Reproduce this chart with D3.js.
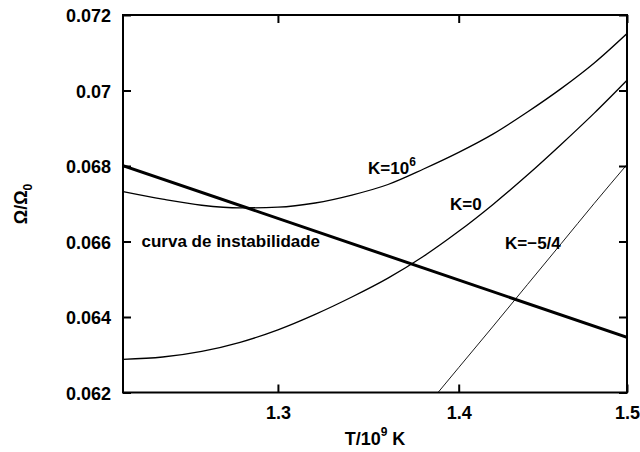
<!DOCTYPE html>
<html>
<head>
<meta charset="utf-8">
<script src="https://cdn.jsdelivr.net/npm/d3@7/dist/d3.min.js"></script>
<style>
  html, body { margin: 0; padding: 0; background: #fff; }
  svg { display: block; }
  text { font-family: "Liberation Sans", Arial, Helvetica, sans-serif; font-weight: bold; fill: #000; }
</style>
</head>
<body>
<svg id="chart" width="640" height="452"></svg>
<script>
// ---- data ----
const temps = [1.22, 1.24, 1.26, 1.28, 1.30, 1.32, 1.34, 1.36, 1.38, 1.40, 1.42, 1.44, 1.46, 1.48, 1.50];
const omegaK1e6 = [0.06732, 0.06712, 0.06696, 0.06689, 0.06691, 0.06702, 0.06723, 0.06751, 0.06792, 0.06836, 0.06885, 0.06943, 0.07005, 0.07073, 0.07151];
const omegaK0 = [0.06288, 0.06294, 0.06309, 0.06333, 0.06366, 0.06407, 0.06453, 0.06503, 0.06561, 0.06627, 0.06699, 0.06776, 0.06857, 0.06940, 0.07027];
const tempsKm54 = [1.38, 1.40, 1.42, 1.44, 1.46, 1.48, 1.50];
const omegaKm54 = [0.06154, 0.06266, 0.06376, 0.06486, 0.06594, 0.06701, 0.06804];
const tempsInst = [1.22, 1.50];
const omegaInst = [0.06801, 0.06346];
const xTicks = [1.3, 1.4, 1.5];
const xTickLabels = ["1.3", "1.4", "1.5"];
const yTicks = [0.062, 0.064, 0.066, 0.068, 0.070, 0.072];
const yTickLabels = ["0.062", "0.064", "0.066", "0.068", "0.07", "0.072"];

// ---- layout ----
const svg = d3.select("#chart");
const L = 123, R = 627, T = 15, B = 392.5;
const x = d3.scaleLog().domain([1.22, 1.5]).range([L, R]);
const y = d3.scaleLinear().domain([0.062, 0.072]).range([B, T]);

svg.append("defs").append("clipPath").attr("id", "clip")
  .append("rect").attr("x", L).attr("y", T).attr("width", R - L).attr("height", B - T);

const line = d3.line().x(d => x(d[0])).y(d => y(d[1])).curve(d3.curveMonotoneX);
const plot = svg.append("g").attr("clip-path", "url(#clip)");

function series(ts, vs) { return ts.map((t, i) => [t, vs[i]]); }

plot.append("path").datum(series(temps, omegaK1e6))
  .attr("d", line).attr("fill", "none").attr("stroke", "#000").attr("stroke-width", 1.3);
plot.append("path").datum(series(temps, omegaK0))
  .attr("d", line).attr("fill", "none").attr("stroke", "#000").attr("stroke-width", 1.3);
plot.append("path").datum(series(tempsKm54, omegaKm54))
  .attr("d", line).attr("fill", "none").attr("stroke", "#000").attr("stroke-width", 0.9);
plot.append("path").datum(series(tempsInst, omegaInst))
  .attr("d", d3.line().x(d => x(d[0])).y(d => y(d[1]))).attr("fill", "none").attr("stroke", "#000").attr("stroke-width", 3);

// ---- axes: ticks inward on all four sides ----
const tl = 8;
const axB = d3.axisBottom(x).tickValues(xTicks).tickFormat((d, i) => xTickLabels[i]).tickSizeInner(-tl).tickSizeOuter(0).tickPadding(14);
const axT = d3.axisTop(x).tickValues(xTicks).tickFormat("").tickSizeInner(-tl).tickSizeOuter(0);
const axL = d3.axisLeft(y).tickValues(yTicks).tickFormat((d, i) => yTickLabels[i]).tickSizeInner(-tl).tickSizeOuter(0).tickPadding(12);
const axR = d3.axisRight(y).tickValues(yTicks).tickFormat("").tickSizeInner(-tl).tickSizeOuter(0);

function style(g) {
  g.select(".domain").remove();
  g.selectAll(".tick line").attr("stroke", "#000").attr("stroke-width", 2);
  g.selectAll(".tick text").attr("font-size", 18).attr("font-family", "Liberation Sans, Arial, sans-serif").attr("font-weight", "bold").attr("fill", "#000");
}
svg.append("g").attr("transform", `translate(0,${B})`).call(axB).call(style)
  .selectAll(".tick text").attr("dy", "0.71em");
svg.append("g").attr("transform", `translate(0,${T})`).call(axT).call(style);
svg.append("g").attr("transform", `translate(${L},0)`).call(axL).call(style)
  .selectAll(".tick text").attr("dy", "0.37em");
svg.append("g").attr("transform", `translate(${R},0)`).call(axR).call(style);

svg.append("rect").attr("x", L).attr("y", T).attr("width", R - L).attr("height", B - T)
  .attr("fill", "none").attr("stroke", "#000").attr("stroke-width", 2);

// ---- axis titles ----
const xt = svg.append("text").attr("x", 375).attr("y", 445).attr("text-anchor", "middle").attr("font-size", 18);
xt.append("tspan").text("T/10");
xt.append("tspan").attr("dy", -9).attr("font-size", 12).text("9");
xt.append("tspan").attr("dy", 9).text(" K");

const yt = svg.append("text").attr("transform", "translate(27,204) rotate(-90)").attr("text-anchor", "middle").attr("font-size", 18);
yt.append("tspan").text("Ω/Ω");
yt.append("tspan").attr("dy", 5).attr("font-size", 12).text("0");

// ---- curve labels ----
const k6 = svg.append("text").attr("x", 368).attr("y", 173.5).attr("font-size", 17);
k6.append("tspan").text("K=10");
k6.append("tspan").attr("dy", -8).attr("font-size", 12).text("6");
svg.append("text").attr("x", 450).attr("y", 210).attr("font-size", 17).text("K=0");
svg.append("text").attr("x", 505).attr("y", 248.5).attr("font-size", 17).text("K=−5/4");
svg.append("text").attr("x", 141.5).attr("y", 246.7).attr("font-size", 17).text("curva de instabilidade");
</script>
</body>
</html>
